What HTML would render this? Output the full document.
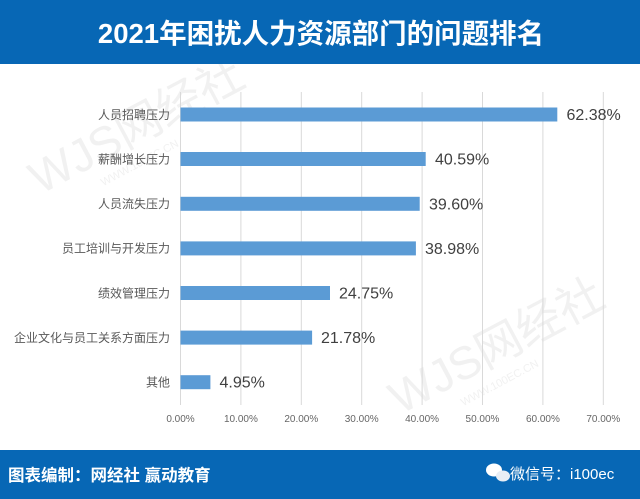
<!DOCTYPE html>
<html>
<head>
<meta charset="utf-8">
<style>
  html,body{margin:0;padding:0;background:#fff;}
  body{width:640px;height:499px;overflow:hidden;position:relative;}
  svg{display:block;}
</style>
</head>
<body>
<svg width="640" height="499" viewBox="0 0 640 499" xmlns="http://www.w3.org/2000/svg">
  <rect x="0" y="0" width="640" height="499" fill="#ffffff"/>

  <!-- watermarks -->
  <g fill="#f1f1f1" font-family="'Liberation Sans','Noto Sans CJK SC',sans-serif">
    <g transform="translate(40,195) rotate(-28)">
      <text x="0" y="0" font-size="46">WJS网经社</text>
      <text x="60" y="22" font-size="11">WWW.100EC.CN</text>
    </g>
    <g transform="translate(400,415) rotate(-28)">
      <text x="0" y="0" font-size="46">WJS网经社</text>
      <text x="60" y="22" font-size="11">WWW.100EC.CN</text>
    </g>
  </g>

  <!-- header -->
  <rect x="0" y="0" width="640" height="64" fill="#0767b5"/>
  <text x="321" y="43" text-anchor="middle" fill="#ffffff" font-family="'Liberation Sans','Noto Sans CJK SC',sans-serif" font-size="27.5" font-weight="bold">2021年困扰人力资源部门的问题排名</text>

  <!-- gridlines -->
  <g stroke="#d9d9d9" stroke-width="1">
    <line x1="180.5" y1="92" x2="180.5" y2="405"/>
    <line x1="240.9" y1="92" x2="240.9" y2="405"/>
    <line x1="301.3" y1="92" x2="301.3" y2="405"/>
    <line x1="361.7" y1="92" x2="361.7" y2="405"/>
    <line x1="422.1" y1="92" x2="422.1" y2="405"/>
    <line x1="482.5" y1="92" x2="482.5" y2="405"/>
    <line x1="542.9" y1="92" x2="542.9" y2="405"/>
    <line x1="603.3" y1="92" x2="603.3" y2="405"/>
  </g>

  <!-- bars -->
  <g fill="#5b9bd5">
    <rect x="180.5" y="107.5" width="376.8" height="14"/>
    <rect x="180.5" y="152" width="245.2" height="14"/>
    <rect x="180.5" y="196.8" width="239.2" height="14"/>
    <rect x="180.5" y="241.4" width="235.4" height="14"/>
    <rect x="180.5" y="286" width="149.5" height="14"/>
    <rect x="180.5" y="330.6" width="131.6" height="14"/>
    <rect x="180.5" y="375.2" width="29.9" height="14"/>
  </g>

  <!-- data labels -->
  <g fill="#404040" font-family="'Liberation Sans',sans-serif" font-size="16">
    <text x="566.5" y="120">62.38%</text>
    <text x="435" y="164.5">40.59%</text>
    <text x="429" y="209.3">39.60%</text>
    <text x="425" y="253.9">38.98%</text>
    <text x="339" y="298.5">24.75%</text>
    <text x="321" y="343.1">21.78%</text>
    <text x="219.5" y="387.7">4.95%</text>
  </g>

  <!-- category labels -->
  <g fill="#595959" font-family="'Liberation Sans','Noto Sans CJK SC',sans-serif" font-size="12" text-anchor="end">
    <text x="170" y="118.8">人员招聘压力</text>
    <text x="170" y="163.3">薪酬增长压力</text>
    <text x="170" y="208.1">人员流失压力</text>
    <text x="170" y="252.7">员工培训与开发压力</text>
    <text x="170" y="297.3">绩效管理压力</text>
    <text x="170" y="341.9">企业文化与员工关系方面压力</text>
    <text x="170" y="386.5">其他</text>
  </g>

  <!-- x tick labels -->
  <g fill="#666666" font-family="'Liberation Sans',sans-serif" font-size="10" text-anchor="middle">
    <text x="180.5" y="422">0.00%</text>
    <text x="240.9" y="422">10.00%</text>
    <text x="301.3" y="422">20.00%</text>
    <text x="361.7" y="422">30.00%</text>
    <text x="422.1" y="422">40.00%</text>
    <text x="482.5" y="422">50.00%</text>
    <text x="542.9" y="422">60.00%</text>
    <text x="603.3" y="422">70.00%</text>
  </g>

  <!-- footer -->
  <rect x="0" y="450" width="640" height="49" fill="#0767b5"/>
  <text x="8" y="481" fill="#ffffff" font-family="'Liberation Sans','Noto Sans CJK SC',sans-serif" font-size="16.5" font-weight="bold">图表编制：网经社  赢动教育</text>
  <!-- wechat icon -->
  <g fill="#ffffff">
    <ellipse cx="494" cy="470" rx="8" ry="6.5"/>
    <ellipse cx="503" cy="476" rx="7" ry="5.5" fill="#e8eef5"/>
  </g>
  <text x="510" y="479" fill="#ffffff" font-family="'Liberation Sans','Noto Sans CJK SC',sans-serif" font-size="15">微信号：i100ec</text>
</svg>
</body>
</html>
